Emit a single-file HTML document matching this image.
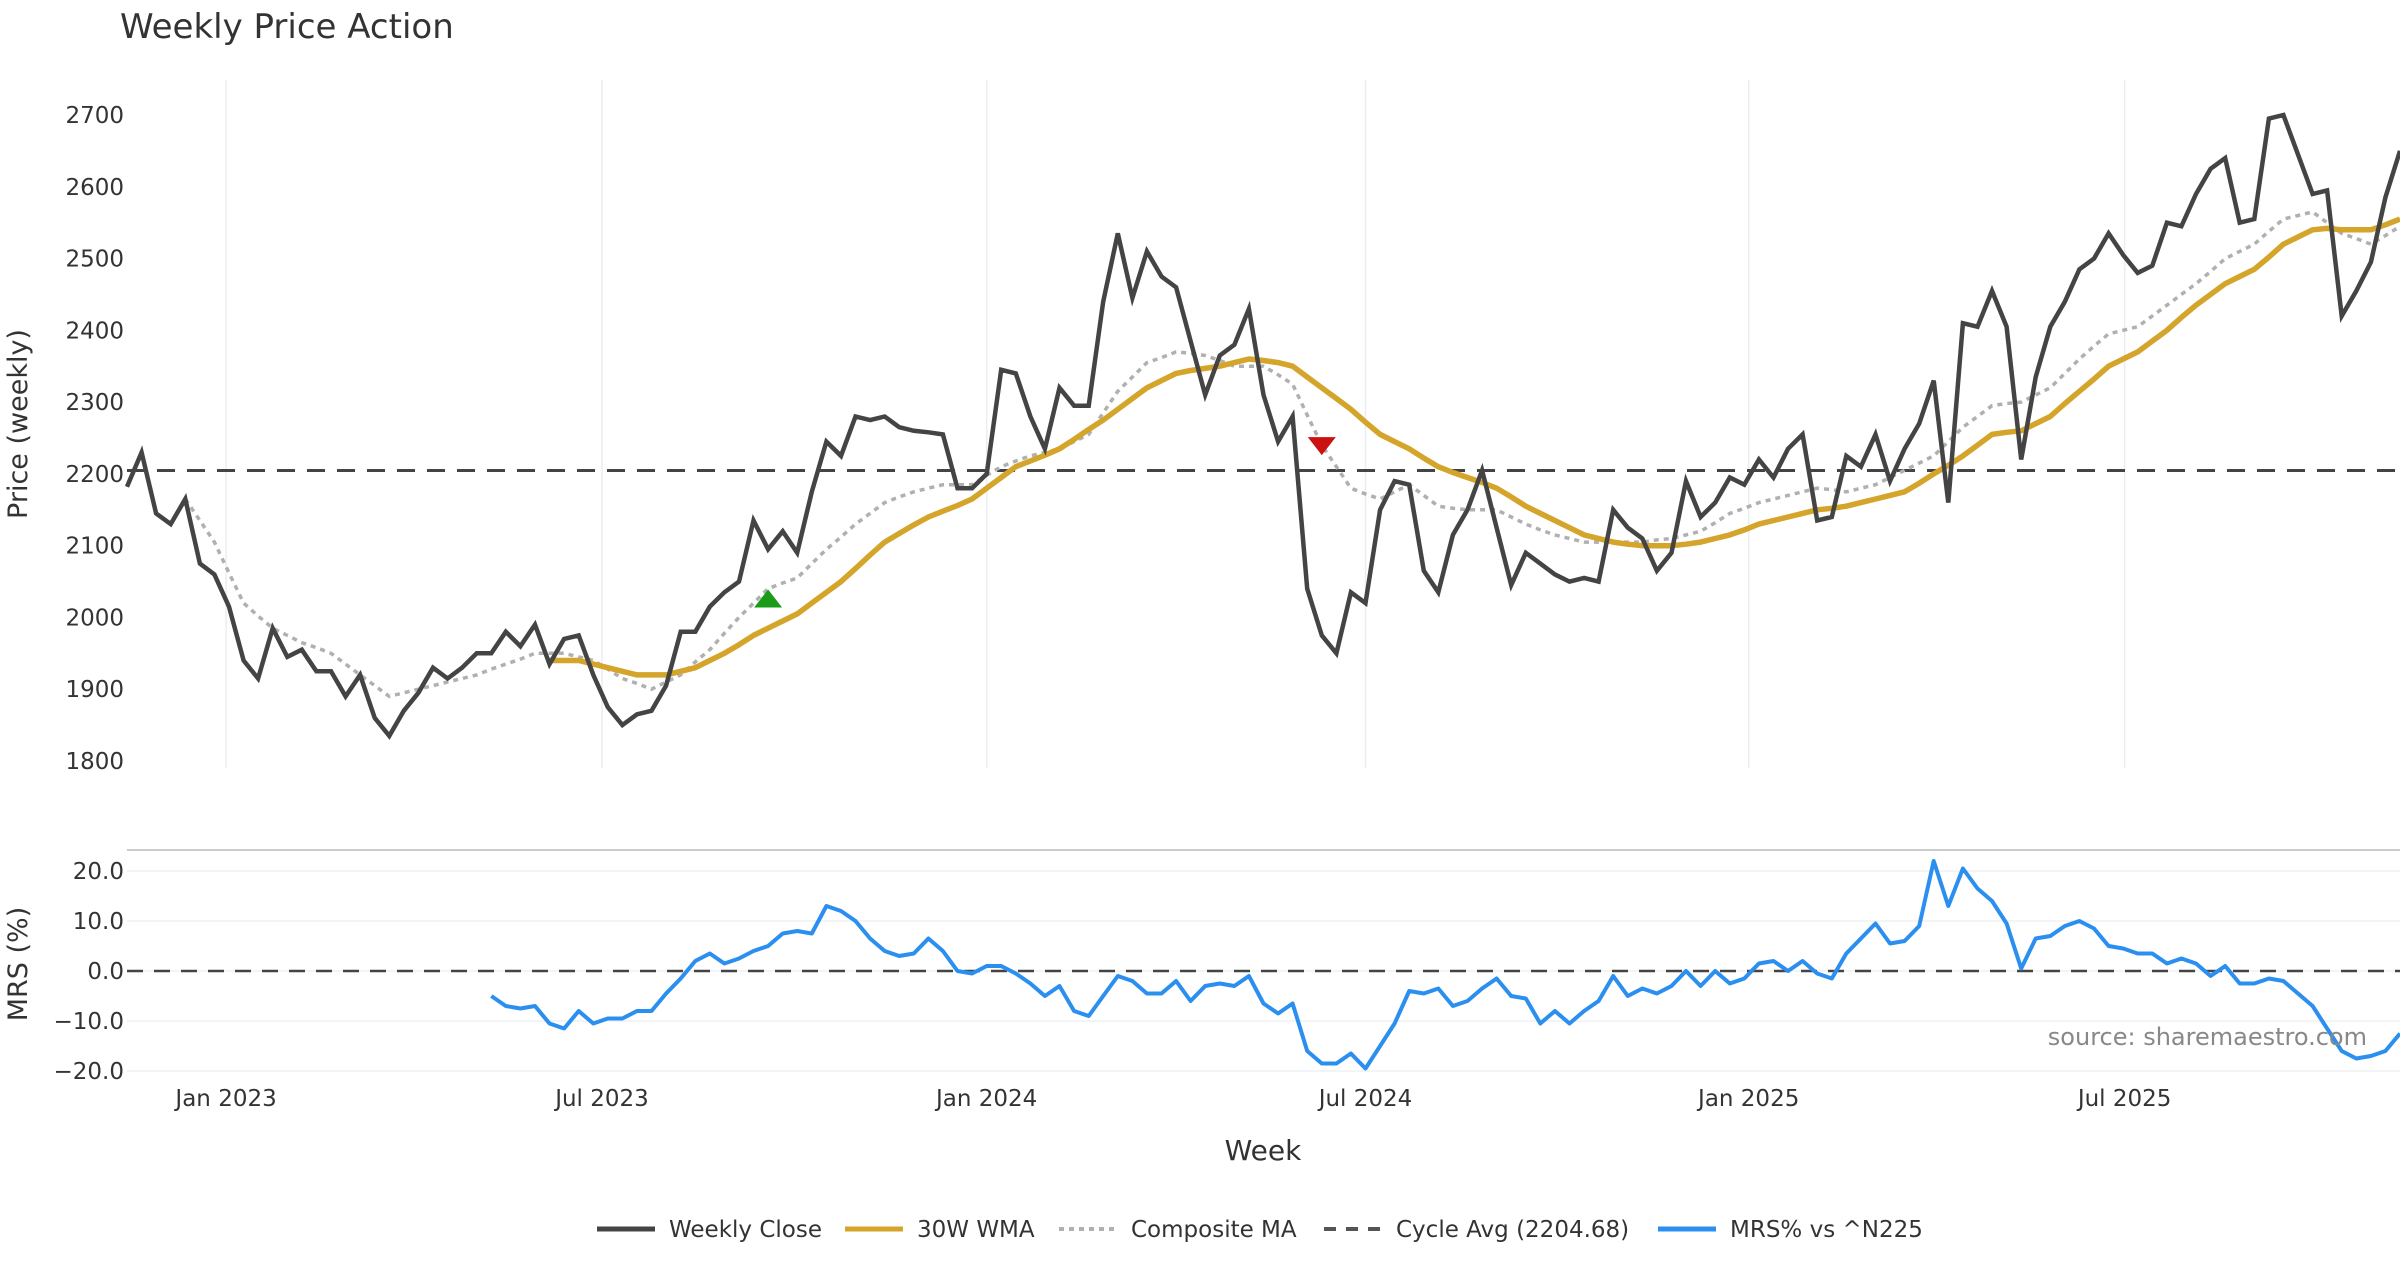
<!DOCTYPE html>
<html><head><meta charset="utf-8">
<style>
html,body{margin:0;padding:0;background:#fff;}
body{width:2400px;height:1260px;overflow:hidden;font-family:"DejaVu Sans","Liberation Sans",sans-serif;}
svg text{font-family:"DejaVu Sans","Liberation Sans",sans-serif;}
</style></head>
<body>
<svg id="chart" width="2400" height="1260" viewBox="0 0 2400 1260" xmlns="http://www.w3.org/2000/svg">
<text x="120" y="38" font-size="34" fill="#333">Weekly Price Action</text>
<g id="grid"></g>
<g id="price"></g>
<g id="mrs"></g>
<text transform="translate(27,424) rotate(-90)" text-anchor="middle" font-size="27" fill="#333">Price (weekly)</text>
<text transform="translate(27,964) rotate(-90)" text-anchor="middle" font-size="27" fill="#333">MRS (%)</text>
<text x="1263" y="1160" text-anchor="middle" font-size="28" fill="#333">Week</text>
<text x="2367" y="1045" text-anchor="end" font-size="24" fill="#888">source: sharemaestro.com</text>
<g id="legend"></g>
</svg>
<script>
const closeVals=[2182,2230,2145,2130,2165,2075,2060,2015,1940,1915,
1985,1945,1955,1925,1925,1890,1920,1860,1835,1870,
1895,1930,1915,1930,1950,1950,1980,1960,1990,1935,
1970,1975,1920,1875,1850,1865,1870,1905,1980,1980,
2015,2035,2050,2135,2095,2120,2090,2175,2245,2225,
2280,2275,2280,2265,2260,2258,2255,2180,2180,2200,
2345,2340,2280,2235,2320,2295,2295,2440,2535,2445,
2510,2475,2460,2385,2310,2365,2380,2430,2310,2245,
2280,2040,1975,1950,2035,2020,2150,2190,2185,2065,
2035,2115,2150,2205,2125,2045,2090,2075,2060,2050,
2055,2050,2150,2125,2110,2065,2090,2190,2140,2160,
2195,2185,2220,2195,2235,2255,2135,2140,2225,2210,
2255,2190,2235,2270,2330,2160,2410,2405,2455,2405,
2220,2335,2405,2440,2485,2500,2535,2505,2480,2490,
2550,2545,2590,2625,2640,2550,2555,2695,2700,2645,
2590,2595,2420,2455,2495,2585,2650];
const wmaStart=29;
const wmaVals=[1940,1940,1940,1935,1930,1925,1920,1920,1920,1925,1930,1940,1950,1962,1975,1985,1995,2005,2020,2035,2050,2068,2087,2105,2117,2129,2140,2148,2156,2165,2180,2195,2210,2218,2226,2235,2248,2262,2275,2290,2305,2320,2330,2340,2344,2347,2350,2355,2360,2358,2355,2350,2335,2320,2305,2290,2272,2255,2245,2235,2222,2210,2202,2195,2188,2180,2168,2155,2145,2135,2125,2115,2110,2105,2102,2100,2100,2100,2102,2105,2110,2115,2122,2130,2135,2140,2145,2150,2152,2155,2160,2165,2170,2175,2187,2200,2212,2225,2240,2255,2258,2260,2270,2280,2298,2315,2332,2350,2360,2370,2385,2400,2418,2435,2450,2465,2475,2485,2502,2520,2530,2540,2542,2540,2540,2540,2547,2555];
const compStart=4;
const compVals=[2165,2135,2105,2062,2020,2002,1985,1975,1965,1958,1950,1935,1920,1905,1890,1895,1900,1905,1910,1915,1920,1928,1935,1942,1950,1950,1950,1945,1940,1928,1915,1908,1900,1910,1920,1938,1955,1978,2000,2020,2040,2048,2055,2075,2095,2112,2130,2145,2160,2168,2175,2180,2185,2185,2185,2198,2210,2218,2225,2230,2235,2245,2255,2285,2315,2335,2355,2362,2370,2368,2365,2358,2350,2350,2350,2338,2325,2282,2240,2210,2180,2172,2165,2175,2185,2170,2155,2152,2150,2150,2150,2140,2130,2122,2115,2110,2105,2105,2105,2105,2105,2108,2110,2115,2120,2132,2145,2152,2160,2165,2170,2175,2180,2178,2175,2180,2185,2195,2205,2215,2225,2245,2265,2280,2295,2298,2300,2310,2320,2340,2360,2378,2395,2400,2405,2420,2435,2450,2465,2482,2500,2510,2520,2538,2555,2560,2565,2550,2535,2528,2520,2532,2545];
const mrsStart=25;
const mrsVals=[-5,-7,-7.5,-7,-10.5,-11.5,-8,-10.5,-9.5,-9.5,
-8,-8,-4.5,-1.5,2,3.5,1.5,2.5,4,5,
7.5,8,7.5,13,12,10,6.5,4,3,3.5,
6.5,4,0,-0.5,1,1,-0.5,-2.5,-5,-3,
-8,-9,-5,-1,-2,-4.5,-4.5,-2,-6,-3,
-2.5,-3,-1,-6.5,-8.5,-6.5,-16,-18.5,-18.5,-16.5,
-19.5,-15,-10.5,-4,-4.5,-3.5,-7,-6,-3.5,-1.5,
-5,-5.5,-10.5,-8,-10.5,-8,-6,-1,-5,-3.5,
-4.5,-3,0,-3,0,-2.5,-1.5,1.5,2,0,
2,-0.5,-1.5,3.5,6.5,9.5,5.5,6,9,22,
13,20.5,16.5,14,9.5,0.5,6.5,7,9,10,
8.5,5,4.5,3.5,3.5,1.5,2.5,1.5,-1,1,
-2.5,-2.5,-1.5,-2,-4.5,-7,-11.5,-16,-17.5,-17,
-16,-12.5];
const priceTicks=[1800,1900,2000,2100,2200,2300,2400,2500,2600,2700];
const mrsTicks=[-20,-10,0,10,20];
const mrsTickLabels=["\u221220.0","\u221210.0","0.0","10.0","20.0"];
const dateTickIdx=[6.8,32.6,59.0,85.0,111.3,137.1];
const dateTickLabels=["Jan 2023","Jul 2023","Jan 2024","Jul 2024","Jan 2025","Jul 2025"];
const cycleAvg=2204.68;
const buySignal=[44,2025];
const sellSignal=[82,2240];

const NS="http://www.w3.org/2000/svg";
const X0=127,X1=2400;
const step=(X1-X0)/(closeVals.length-1);
function xS(i){return X0+i*step;}
function yP(v){return 761-(v-1800)*(761-115)/900;}
function yM(v){return 1071-(v+20)*(1071-871)/40;}
function mk(tag,attrs,parent){const e=document.createElementNS(NS,tag);for(const k in attrs)e.setAttribute(k,attrs[k]);parent.appendChild(e);return e;}
const grid=document.getElementById('grid'),pg=document.getElementById('price'),mg=document.getElementById('mrs'),lg=document.getElementById('legend');

dateTickIdx.forEach((d,k)=>{
  const x=xS(d);
  let l=mk('line',{x1:x,x2:x,y1:80,y2:768,stroke:'#e9eef2','stroke-width':1.5},grid);
  
  
  let t=mk('text',{x:x,y:1106,'text-anchor':'middle','font-size':23,fill:'#333'},grid);
  t.textContent=dateTickLabels[k];
  
  
});
priceTicks.forEach(v=>{
  let t=mk('text',{x:124,y:yP(v)+8,'text-anchor':'end','font-size':23,fill:'#333'},grid);
  t.textContent=v;
  
  
});
let sep=mk('line',{x1:127,x2:2400,y1:850,y2:850,stroke:'#ccc','stroke-width':2},grid);


mrsTicks.forEach((v,k)=>{
  let l=mk('line',{x1:127,x2:2400,y1:yM(v),y2:yM(v),stroke:'#eef1f4','stroke-width':1.5},grid);
  
  
  let t=mk('text',{x:124,y:yM(v)+8,'text-anchor':'end','font-size':23,fill:'#333'},grid);
  t.textContent=mrsTickLabels[k];
  
  
});

function pathFrom(vals,start,yf){return vals.map((v,i)=>(i?'L':'M')+xS(start+i).toFixed(1)+' '+yf(v).toFixed(1)).join(' ');}

let ca=mk('line',{x1:127,x2:2400,y1:yP(cycleAvg),y2:yP(cycleAvg),stroke:'#444','stroke-width':3,'stroke-dasharray':'18 12'},pg);


let cp=mk('path',{d:pathFrom(compVals,compStart,yP),fill:'none',stroke:'#b0b0b0','stroke-width':3.5,'stroke-dasharray':'5 5'},pg);


let wp=mk('path',{d:pathFrom(wmaVals,wmaStart,yP),fill:'none',stroke:'#d4a52a','stroke-width':5.5,'stroke-linejoin':'round'},pg);


let clp=mk('path',{d:pathFrom(closeVals,0,yP),fill:'none',stroke:'#444','stroke-width':4.5,'stroke-linejoin':'miter'},pg);


{const x=xS(buySignal[0]),y=yP(buySignal[1]);
let b=mk('polygon',{points:`${x-14},${y+8} ${x+14},${y+8} ${x},${y-10}`,fill:'#1a9c1a'},pg);

}
{const x=xS(sellSignal[0]),y=yP(sellSignal[1]);
let s=mk('polygon',{points:`${x-14},${y-8} ${x+14},${y-8} ${x},${y+10}`,fill:'#cc1111'},pg);

}

let z=mk('line',{x1:127,x2:2400,y1:yM(0),y2:yM(0),stroke:'#444','stroke-width':2.5,'stroke-dasharray':'16 11'},mg);


let mp=mk('path',{d:pathFrom(mrsVals,mrsStart,yM),fill:'none',stroke:'#2b8ff0','stroke-width':4,'stroke-linejoin':'round'},mg);



const legendItems=[["Weekly Close","#444",5,null,597,669],["30W WMA","#d4a52a",5,null,845,917],["Composite MA","#b0b0b0",4,"5 5",1059,1131],["Cycle Avg (2204.68)","#555",4,"12 10",1324,1396],["MRS% vs ^N225","#2b8ff0",5,null,1658,1730]];
legendItems.forEach(it=>{
  const y=1229;
  let g=mk('g',{},lg);
  
  
  const a={x1:it[4],x2:it[4]+58,y1:y,y2:y,stroke:it[1],'stroke-width':it[2]};
  if(it[3])a['stroke-dasharray']=it[3];
  mk('line',a,g);
  let t=mk('text',{x:it[5],y:y+8,'font-size':23,fill:'#333'},g);
  t.textContent=it[0];
});
</script>
</body></html>
